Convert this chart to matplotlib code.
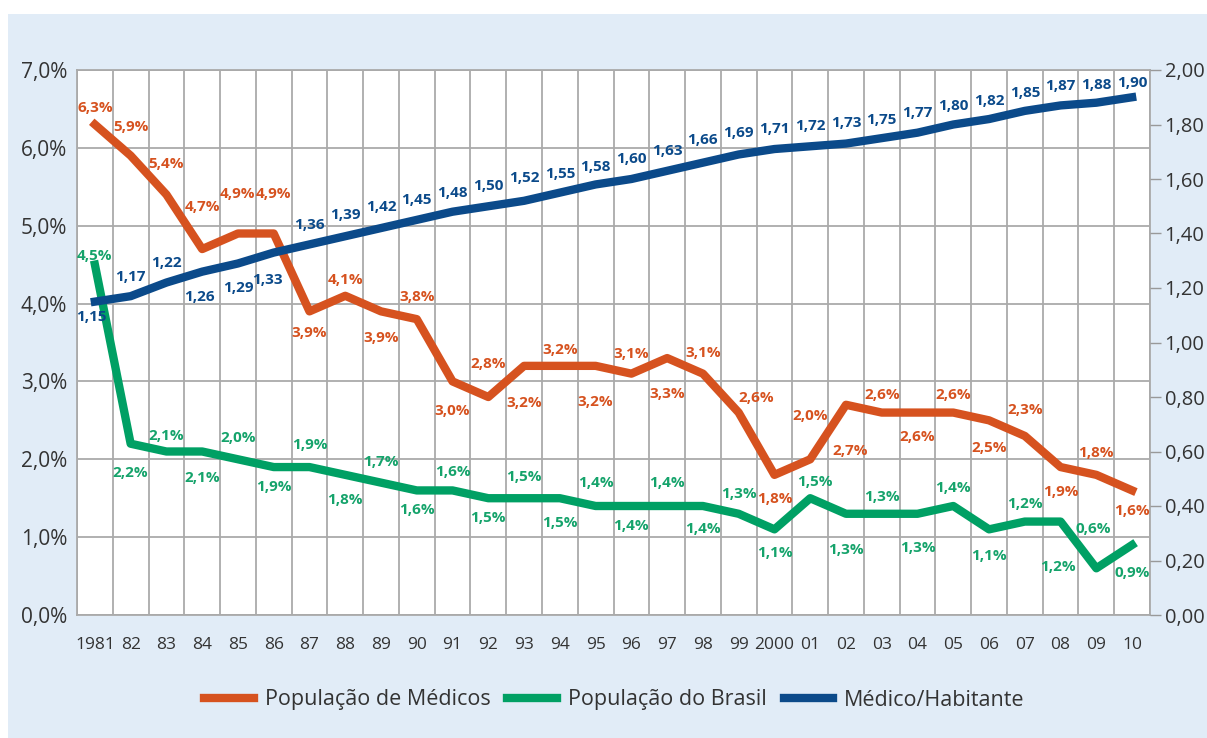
import numpy as np
import matplotlib.pyplot as plt
from matplotlib.patches import Rectangle
from matplotlib.lines import Line2D

plt.rcParams['font.family'] = ['Open Sans', 'DejaVu Sans']

# Data
years = ['1981', '82', '83', '84', '85', '86', '87', '88', '89', '90',
         '91', '92', '93', '94', '95', '96', '97', '98', '99', '2000',
         '01', '02', '03', '04', '05', '06', '07', '08', '09', '10']

medicos = [6.3, 5.9, 5.4, 4.7, 4.9, 4.9, 3.9, 4.1, 3.9, 3.8,
           3.0, 2.8, 3.2, 3.2, 3.2, 3.1, 3.3, 3.1, 2.6, 1.8,
           2.0, 2.7, 2.6, 2.6, 2.6, 2.5, 2.3, 1.9, 1.8, 1.6]

brasil = [4.5, 2.2, 2.1, 2.1, 2.0, 1.9, 1.9, 1.8, 1.7, 1.6,
          1.6, 1.5, 1.5, 1.5, 1.4, 1.4, 1.4, 1.4, 1.3, 1.1,
          1.5, 1.3, 1.3, 1.3, 1.4, 1.1, 1.2, 1.2, 0.6, 0.9]

med_hab = [1.15, 1.17, 1.22, 1.26, 1.29, 1.33, 1.36, 1.39, 1.42, 1.45,
           1.48, 1.50, 1.52, 1.55, 1.58, 1.60, 1.63, 1.66, 1.69, 1.71,
           1.72, 1.73, 1.75, 1.77, 1.80, 1.82, 1.85, 1.87, 1.88, 1.90]

# label offsets (pixels, + is up)
medicos_dy = [17, 29, 31, 42, 39, 39, -22, 16, -27, 22,
              -30, 33, -37, 16, -36, 20, -36, 21, 15, -24,
              43, -46, 18, -24, 18, -28, 26, -25, 22, -21]
brasil_dy = [9, -29, 16, -27, 21, -20, 22, -25, 21, -20,
             18, -20, 21, -25, 23, -20, 23, -23, 20, -24,
             16, -36, 17, -34, 18, -27, 18, -45, 39, -28]
med_hab_dy = [-15, 19, 20, -25, -25, -27, 19, 21, 21, 20,
              19, 20, 23, 19, 17, 20, 20, 23, 21, 20,
              20, 21, 18, 20, 18, 18, 18, 19, 18, 14]
medicos_dx = {18: 18, 21: 4}
brasil_dx = {20: 5, 28: -3, 27: -3}
med_hab_dx = {0: -4, 5: -6, 3: -3}

orange = '#d6521f'
green = '#00a064'
blue = '#0b4a8a'
grid_c = '#aaaaaa'
txt_c = '#333333'

fig = plt.figure(figsize=(12.07, 7.38), dpi=100)
fig.patches.append(Rectangle((8 / 1207, 0), 1, 1 - 14 / 738, transform=fig.transFigure,
                             facecolor='#e1ecf7', edgecolor='none', zorder=-10))

ax = fig.add_axes([77 / 1207, 123 / 738, 1073 / 1207, 545 / 738])
ax.set_facecolor('white')
x = np.arange(len(years))
ax.set_xlim(-0.5, len(years) - 0.5)
ax.set_ylim(0, 7)
ax.set_yticks(range(8), [f'{v},0%' for v in range(8)])
ax.set_xticks(x, years)
ax.set_xticks(np.arange(-0.5, len(years), 1), minor=True)
ax.grid(True, which='minor', axis='x', color=grid_c, lw=1.3)
ax.grid(True, which='major', axis='y', color=grid_c, lw=1.3)
ax.tick_params(which='both', length=0)
ax.tick_params(axis='y', labelsize=15, pad=7, labelcolor=txt_c)
ax.tick_params(axis='x', labelsize=12.5, pad=16, labelcolor=txt_c)
for s in ax.spines.values():
    s.set_color(grid_c)
    s.set_linewidth(1.3)

ax.plot(x, medicos, color=orange, lw=6)
ax.plot(x, brasil, color=green, lw=6)

ax2 = ax.twinx()
ax2.set_ylim(0, 2)
rt = np.arange(0, 2.01, 0.2)
ax2.set_yticks(rt, [f'{v:.2f}'.replace('.', ',') for v in rt])
ax2.tick_params(axis='y', length=8, width=1, color='#999999', pad=2.5,
                labelsize=14.5, labelcolor=txt_c)
for s in ax2.spines.values():
    s.set_visible(False)
ax2.plot(x, med_hab, color=blue, lw=6)


def put_labels(axis, vals, dys, dxs, color, fmt):
    for i, v in enumerate(vals):
        axis.annotate(fmt(v), (x[i], v), xytext=(dxs.get(i, 0), dys[i]),
                      textcoords='offset pixels', ha='center', va='center',
                      fontsize=11, fontweight='bold', color=color,
                      annotation_clip=False)


put_labels(ax, medicos, medicos_dy, medicos_dx, orange,
           lambda v: f'{v:.1f}%'.replace('.', ','))
put_labels(ax, brasil, brasil_dy, brasil_dx, '#15a36b',
           lambda v: f'{v:.1f}%'.replace('.', ','))
put_labels(ax2, med_hab, med_hab_dy, med_hab_dx, blue,
           lambda v: f'{v:.2f}'.replace('.', ','))

handles = [Line2D([], [], color=orange, lw=6),
           Line2D([], [], color=green, lw=6),
           Line2D([], [], color=blue, lw=6)]
leg = fig.legend(handles, ['População de Médicos', 'População do Brasil', 'Médico/Habitante'],
                 loc='center', bbox_to_anchor=(0.509, 1 - 700 / 738), ncol=3, frameon=False,
                 fontsize=15.5, handlelength=2.3, handletextpad=0.5, columnspacing=0.8)
for t in leg.get_texts():
    t.set_color(txt_c)

fig.savefig('out.png', dpi=100)
